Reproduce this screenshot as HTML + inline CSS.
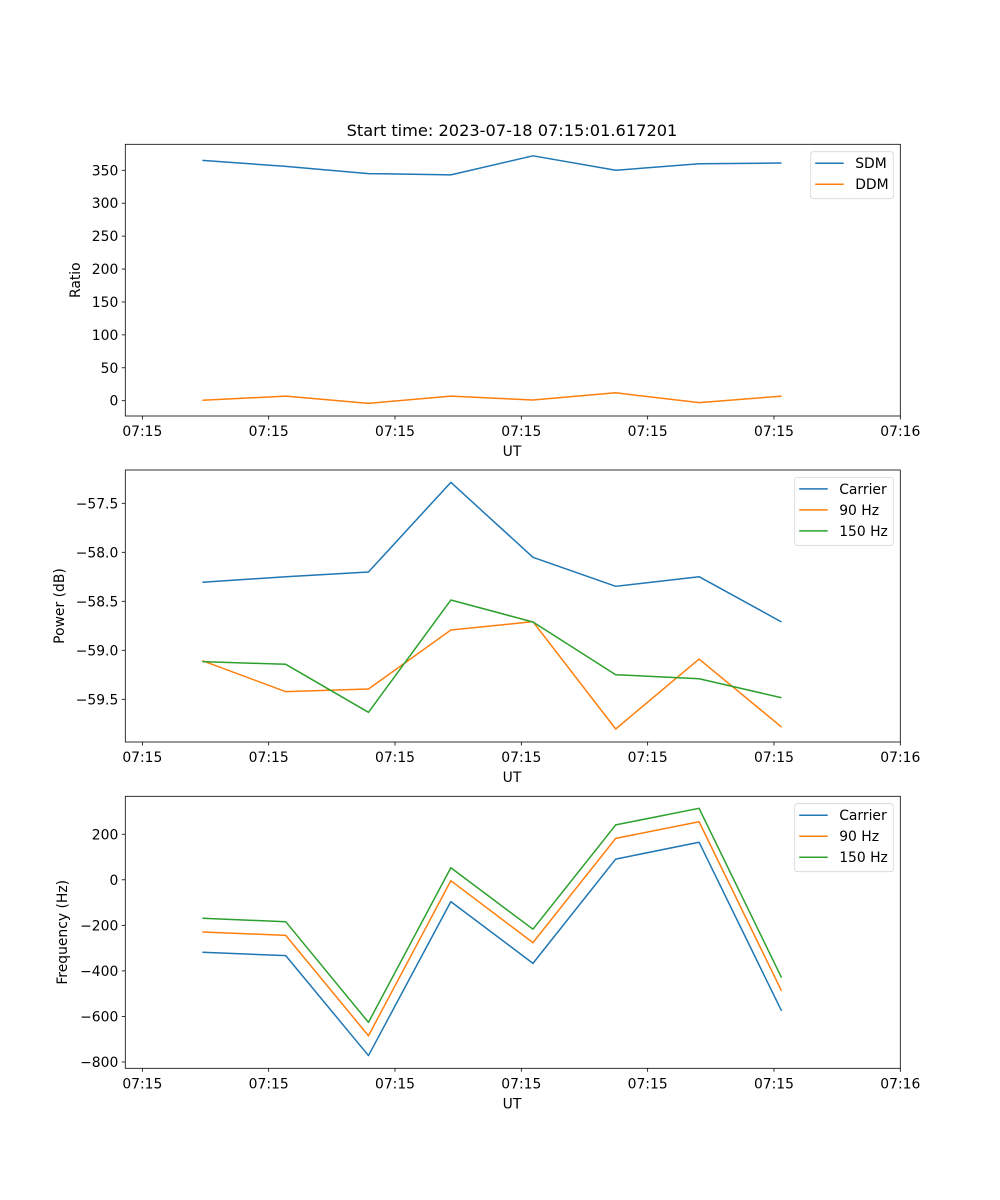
<!DOCTYPE html>
<html><head><meta charset="utf-8"><style>
body{margin:0;background:#fff}
svg{display:block;font-family:"DejaVu Sans","Liberation Sans",sans-serif}
</style></head><body>
<svg id="fig" width="1000" height="1200" viewBox="0 0 1000 1200" xmlns="http://www.w3.org/2000/svg">
<rect width="1000" height="1200" fill="#fff"/>
<text x="512" y="136" font-size="16.2" text-anchor="middle" fill="#000">Start time: 2023-07-18 07:15:01.617201</text>
</svg>
<script>
const times = [4.75, 11.35, 17.9, 24.42, 30.92, 37.47, 44.07, 50.6];
const xTickVals = [0, 10, 20, 30, 40, 50, 60];
const xTickLabels = ["07:15","07:15","07:15","07:15","07:15","07:15","07:16"];
const sdm = [365, 356, 345, 343, 372, 350, 360, 361];
const ddm = [0.6, 7, -4, 7, 1, 12, -3, 7];
const ratioTicks = [0, 50, 100, 150, 200, 250, 300, 350];
const pCarrier = [-58.306, -58.249, -58.201, -57.286, -58.051, -58.347, -58.249, -58.711];
const p90 = [-59.106, -59.422, -59.395, -58.793, -58.708, -59.803, -59.089, -59.783];
const p150 = [-59.116, -59.143, -59.633, -58.487, -58.711, -59.249, -59.29, -59.484];
const powerTicks = [-59.5, -59.0, -58.5, -58.0, -57.5];
const fCarrier = [-318, -333, -772, -96, -367, 91, 165, -576];
const f90 = [-229, -244, -685, -4, -276, 182, 255, -488];
const f150 = [-169, -184, -626, 53, -217, 241, 314, -430];
const freqTicks = [-800, -600, -400, -200, 0, 200];

const NS = "http://www.w3.org/2000/svg";
const svg = document.getElementById('fig');
const C = {blue:"#1f77b4", orange:"#ff7f0e", green:"#2ca02c"};
function mk(tag, attrs, parent){const e=document.createElementNS(NS,tag);for(const k in attrs)e.setAttribute(k,attrs[k]);(parent||svg).appendChild(e);return e;}
function fmt(v,dec){let s=v.toFixed(dec);return s.replace('-','\u2212');}

const L=125.3, R=900.3, XMIN=-1.35, XMAX=60.0;
function xs(t){return L+(t-XMIN)/(XMAX-XMIN)*(R-L);}

function panel(cfg){
  const g=mk('g',{});
  
  
  const T=cfg.top, B=cfg.bottom;
  function ys(v){return cfg.y0px+(v-cfg.v0)*cfg.scale;}
  // lines
  cfg.series.forEach(s=>{
    const pts=times.map((t,i)=>xs(t).toFixed(2)+','+ys(s.data[i]).toFixed(2)).join(' ');
    const pl=mk('polyline',{points:pts,fill:'none',stroke:s.color,'stroke-width':1.5,'stroke-linejoin':'round'},g);
    
    
  });
  // frame
  const fr=mk('rect',{x:L,y:T,width:R-L,height:B-T,fill:'none',stroke:'#000','stroke-width':0.8},g);
  
  
  // x ticks
  xTickVals.forEach((v,i)=>{
    const x=xs(v);
    mk('line',{x1:x,x2:x,y1:B,y2:B+3.5,stroke:'#000','stroke-width':0.8},g);
    const t=mk('text',{x:x,y:B+20,'font-size':13.9,'text-anchor':'middle',fill:'#000'},g);
    
    
    t.textContent=xTickLabels[i];
  });
  const xl=mk('text',{x:512,y:B+40,'font-size':13.9,'text-anchor':'middle',fill:'#000'},g);
  
  
  xl.textContent='UT';
  // y ticks
  cfg.ticks.forEach(v=>{
    const y=ys(v);
    mk('line',{x1:L,x2:L-3.5,y1:y,y2:y,stroke:'#000','stroke-width':0.8},g);
    const t=mk('text',{x:L-7,y:y+5,'font-size':13.9,'text-anchor':'end',fill:'#000'},g);
    
    
    t.textContent=fmt(v,cfg.dec);
  });
  const yl=mk('text',{x:cfg.ylx,y:(T+B)/2,'font-size':13.9,'text-anchor':'middle',fill:'#000',transform:`rotate(-90 ${cfg.ylx} ${(T+B)/2})`},g);
  
  
  yl.textContent=cfg.ylabel;
  // legend
  const lg=mk('g',{},g);
  
  
  const lw=cfg.legW, lx=893.3-lw, ly=T+7.4, lh=cfg.series.length*21+5;
  mk('rect',{x:lx,y:ly,width:lw,height:lh,rx:2.5,fill:'#fff','fill-opacity':0.8,stroke:'#d6d6d6','stroke-width':0.8},lg);
  cfg.series.forEach((s,i)=>{
    const ry=ly+11.5+i*21;
    const e=mk('g',{},lg);
    
    
    mk('line',{x1:lx+4.5,x2:lx+33,y1:ry,y2:ry,stroke:s.color,'stroke-width':1.5},e);
    const t=mk('text',{x:lx+44.5,y:ry+5,'font-size':13.9,fill:'#000'},e);
    t.textContent=s.label;
  });
}

panel({name:'ratio-panel',top:144.3,bottom:416,y0px:400.7,v0:0,scale:-230.4/350,ticks:ratioTicks,dec:0,ylabel:'Ratio',ylx:80,legW:82.6,
  series:[{id:'sdm',label:'SDM',color:C.blue,data:sdm},{id:'ddm',label:'DDM',color:C.orange,data:ddm}]});
panel({name:'power-panel',top:470,bottom:742,y0px:503.3,v0:-57.5,scale:-98,ticks:powerTicks,dec:1,ylabel:'Power (dB)',ylx:64,legW:98.6,
  series:[{id:'carrier',label:'Carrier',color:C.blue,data:pCarrier},{id:'90hz',label:'90 Hz',color:C.orange,data:p90},{id:'150hz',label:'150 Hz',color:C.green,data:p150}]});
panel({name:'frequency-panel',top:796.3,bottom:1068.3,y0px:879.8,v0:0,scale:-0.2277,ticks:freqTicks,dec:0,ylabel:'Frequency (Hz)',ylx:67,legW:98.6,
  series:[{id:'carrier',label:'Carrier',color:C.blue,data:fCarrier},{id:'90hz',label:'90 Hz',color:C.orange,data:f90},{id:'150hz',label:'150 Hz',color:C.green,data:f150}]});
</script>
</body></html>
